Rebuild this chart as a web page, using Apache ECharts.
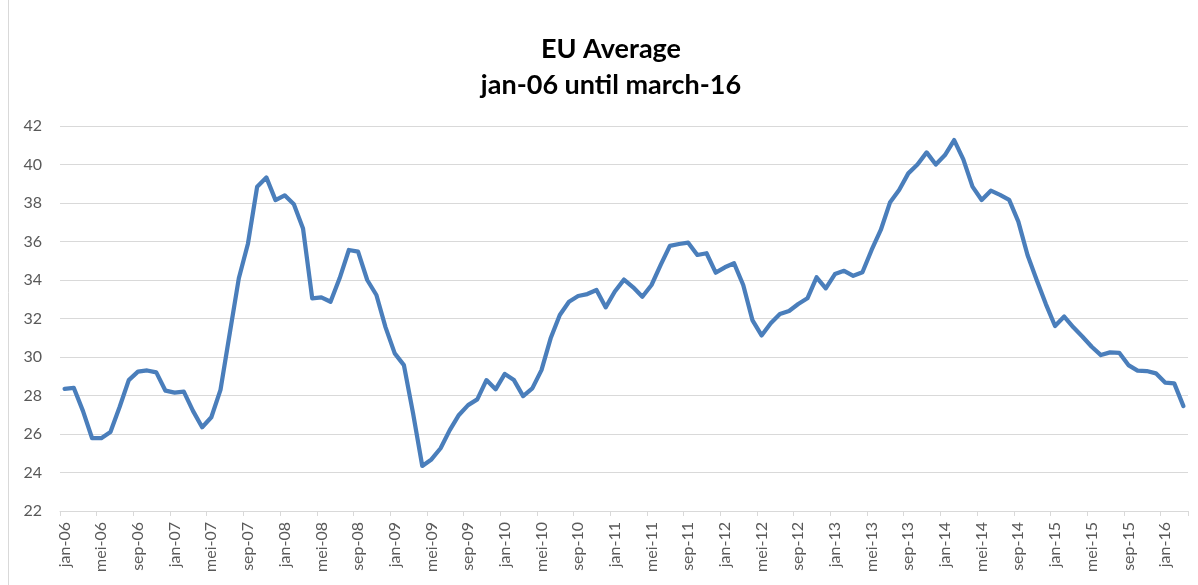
<!DOCTYPE html>
<html>
<head>
<meta charset="utf-8">
<script src="https://cdn.jsdelivr.net/npm/echarts@6/dist/echarts.min.js"></script>
<style>
html,body{margin:0;padding:0;background:#fff;}
#chart{width:1198px;height:585px;}
</style>
</head>
<body>
<div id="chart"></div>
<script>
// Data
const monthNames = ["jan","feb","mrt","apr","mei","jun","jul","aug","sep","okt","nov","dec"];
const startYear = 2006;
const pointCount = 123; // jan-06 .. mrt-16
const euAverage = [
  28.35, 28.4, 27.2, 25.78, 25.78, 26.1, 27.4, 28.8, 29.24, 29.3, 29.2, 28.25,
  28.15, 28.2, 27.2, 26.35, 26.87, 28.29, 31.2, 34.09, 35.9, 38.85, 39.33, 38.15,
  38.4, 37.93, 36.68, 33.05, 33.1, 32.87, 34.1, 35.56, 35.47, 34.0, 33.22, 31.54,
  30.19, 29.58, 27.07, 24.34, 24.68, 25.26, 26.2, 26.99, 27.5, 27.8, 28.8, 28.32,
  29.12, 28.8, 27.97, 28.37, 29.32, 30.97, 32.18, 32.87, 33.17, 33.27, 33.48, 32.58,
  33.4, 34.02, 33.62, 33.13, 33.74, 34.78, 35.77, 35.87, 35.94, 35.3, 35.39, 34.38,
  34.66, 34.87, 33.74, 31.92, 31.12, 31.75, 32.23, 32.39, 32.75, 33.05, 34.14, 33.57,
  34.31, 34.48, 34.22, 34.4, 35.56, 36.6, 38.02, 38.67, 39.54, 40.0, 40.63, 40.0,
  40.49, 41.27, 40.27, 38.85, 38.16, 38.64, 38.42, 38.16, 37.03, 35.3, 34.0, 32.75,
  31.61, 32.1, 31.54, 31.05, 30.53, 30.1, 30.24, 30.22, 29.58, 29.29, 29.27, 29.15,
  28.67, 28.63, 27.45
];
const yMin = 22, yMax = 42, yStep = 2;
const titleText = "EU Average\njan-06 until march-16";

const categories = [];
for (let i = 0; i < pointCount; i++) {
  const y = startYear + Math.floor(i / 12);
  categories.push(monthNames[i % 12] + "-" + String(y % 100).padStart(2, "0"));
}

const chart = echarts.init(document.getElementById('chart'), null, {renderer: 'canvas'});
chart.setOption({
  animation: false,
  backgroundColor: '#ffffff',
  title: {
    text: titleText,
    left: 606,
    top: 26,
    textAlign: 'center',
    textStyle: {
      fontFamily: 'Lato, "Open Sans", sans-serif',
      fontWeight: 'bold',
      fontSize: 27,
      lineHeight: 36,
      color: '#000000'
    }
  },
  graphic: [{
    type: 'line',
    shape: {x1: 8.5, y1: 0, x2: 8.5, y2: 585},
    style: {stroke: '#d9d9d9', lineWidth: 1}
  }],
  grid: {left: 60, right: 10, top: 126, bottom: 74, containLabel: false},
  xAxis: {
    type: 'category',
    data: categories,
    boundaryGap: true,
    axisLine: {show: true, lineStyle: {color: '#d9d9d9', width: 1}},
    axisTick: {show: true, interval: 3, alignWithLabel: false, length: 5, lineStyle: {color: '#d9d9d9'}},
    axisLabel: {
      interval: 3,
      rotate: 90,
      margin: 11,
      color: '#595959',
      fontSize: 16,
      fontFamily: 'Lato, "Open Sans", sans-serif'
    },
    splitLine: {show: false}
  },
  yAxis: {
    type: 'value',
    min: yMin,
    max: yMax,
    interval: yStep,
    axisLine: {show: false},
    axisTick: {show: false},
    axisLabel: {
      margin: 18,
      color: '#595959',
      fontSize: 16,
      fontFamily: 'Lato, "Open Sans", sans-serif'
    },
    splitLine: {show: true, lineStyle: {color: '#d9d9d9', width: 1}}
  },
  series: [{
    type: 'line',
    data: euAverage,
    symbol: 'none',
    smooth: false,
    lineStyle: {color: '#4a7ebb', width: 4.25, cap: 'round', join: 'round'}
  }]
});
</script>
</body>
</html>
